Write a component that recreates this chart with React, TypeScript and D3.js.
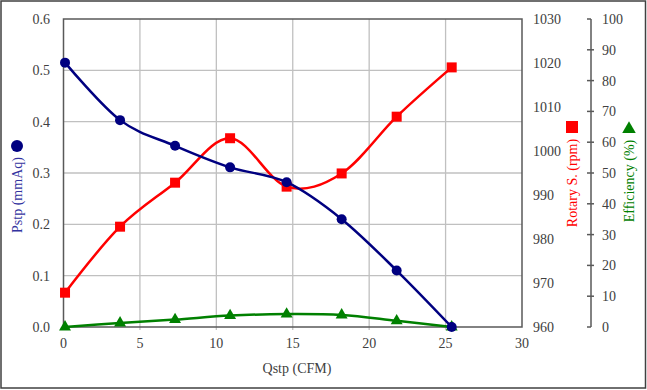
import React from 'react';
import * as d3 from 'd3';

// values
const qstp = [0.1, 3.7, 7.3, 10.9, 14.6, 18.2, 21.8, 25.4];
const pstp = [0.515, 0.403, 0.353, 0.311, 0.282, 0.21, 0.11, 0.0];
const rpm = [967.8, 982.8, 992.8, 1002.9, 991.9, 994.9, 1007.8, 1019.0];
const eff = [0, 1.3, 2.4, 3.7, 4.2, 3.9, 2.0, 0];

const xTicks = [0, 5, 10, 15, 20, 25, 30];
const pTicks = [0, 0.1, 0.2, 0.3, 0.4, 0.5, 0.6];
const rpmTicks = [960, 970, 980, 990, 1000, 1010, 1020, 1030];
const effTicks = [0, 10, 20, 30, 40, 50, 60, 70, 80, 90, 100];

const W = 647;
const H = 390;
const m = { left: 63.5, right: 522, top: 19, bottom: 327 };
const FONT = 'Liberation Serif, DejaVu Serif, serif';

const NAVY = '#000080';
const RED = '#ff0000';
const GREEN = '#008000';
const AXIS = '#595959';
const GRID = '#c0c0c0';
const TXT = '#404040';

const App = () => {
  const x = d3.scaleLinear().domain([0, 30]).range([m.left, m.right]);
  const yP = d3.scaleLinear().domain([0, 0.6]).range([m.bottom, m.top]);
  const yR = d3.scaleLinear().domain([960, 1030]).range([m.bottom, m.top]);
  const yE = d3.scaleLinear().domain([0, 100]).range([m.bottom, m.top]);

  const curve = d3.curveCardinal.tension(0);
  const lineP = d3.line<number>().x((d, i) => x(qstp[i])).y(d => yP(d)).curve(curve);
  const lineR = d3.line<number>().x((d, i) => x(qstp[i])).y(d => yR(d)).curve(curve);
  const lineE = d3.line<number>().x((d, i) => x(qstp[i])).y(d => yE(d)).curve(curve);

  const effAxisX = 591;
  const tri = d3.symbol().type(d3.symbolTriangle).size(62)();

  return (
    <div style={{ position: 'absolute', left: 0, top: 0 }}>
      <svg width={W} height={H} style={{ display: 'block', background: '#fff' }} fontFamily={FONT}>
        <rect x={1} y={1} width={W - 2.5} height={H - 3} fill="#fff" stroke="#404040" strokeWidth={1.5} />

        {/* grid */}
        {pTicks.slice(1, -1).map(t => (
          <line key={'gy' + t} x1={m.left} x2={m.right} y1={yP(t)} y2={yP(t)} stroke={GRID} strokeWidth={1.3} />
        ))}
        {xTicks.slice(1, -1).map(t => (
          <line key={'gx' + t} x1={x(t)} x2={x(t)} y1={m.top} y2={m.bottom + 3} stroke={GRID} strokeWidth={1.3} />
        ))}

        {/* plot frame */}
        <rect x={m.left} y={m.top} width={m.right - m.left} height={m.bottom - m.top}
          fill="none" stroke={AXIS} strokeWidth={1.5} />

        {/* left axis labels */}
        {pTicks.map(t => (
          <text key={'pl' + t} x={50} y={yP(t)} dy="0.35em" textAnchor="end" fontSize={14} fill={TXT} fontFamily={FONT}>
            {t.toFixed(1)}
          </text>
        ))}
        {/* bottom axis labels */}
        {xTicks.map(t => (
          <text key={'xl' + t} x={x(t)} y={348} textAnchor="middle" fontSize={14} fill={TXT} fontFamily={FONT}>{t}</text>
        ))}
        <text x={297} y={373} textAnchor="middle" fontSize={14} fill={TXT} fontFamily={FONT}>Qstp (CFM)</text>

        {/* rpm axis labels */}
        {rpmTicks.map(t => (
          <text key={'rl' + t} x={533} y={yR(t)} dy="0.35em" fontSize={14} fill={TXT} fontFamily={FONT}>{t}</text>
        ))}

        {/* efficiency axis */}
        <line x1={effAxisX} x2={effAxisX} y1={m.top} y2={m.bottom} stroke={AXIS} strokeWidth={1.5} />
        {effTicks.map(t => (
          <g key={'el' + t}>
            <line x1={effAxisX - 4} x2={t === 0 || t === 100 ? effAxisX : effAxisX + 3} y1={yE(t)} y2={yE(t)}
              stroke={AXIS} strokeWidth={1.5} />
            <text x={602} y={yE(t)} dy="0.35em" fontSize={14} fill={TXT} fontFamily={FONT}>{t}</text>
          </g>
        ))}

        {/* axis titles */}
        <g transform="translate(17,183) rotate(-90)">
          <text x={-12} y={0} dy="0.35em" textAnchor="middle" fontSize={14} fill="#3333a0" fontFamily={FONT}>Pstp (mmAq)</text>
          <circle cx={37} cy={0} r={6} fill={NAVY} />
        </g>
        <g transform="translate(572,175) rotate(-90)">
          <text x={-8} y={0} dy="0.35em" textAnchor="middle" fontSize={14} fill={RED} fontFamily={FONT}>Rotary S. (rpm)</text>
          <rect x={42} y={-6} width={12} height={12} fill={RED} />
        </g>
        <g transform="translate(629,172) rotate(-90)">
          <text x={-9} y={0} dy="0.35em" textAnchor="middle" fontSize={14} fill={GREEN} fontFamily={FONT}>Efficiency (%)</text>
          <path d={d3.symbol().type(d3.symbolTriangle).size(80)()} transform="translate(43,0) rotate(90)" fill={GREEN} />
        </g>

        {/* series */}
        <path d={lineE(eff)} fill="none" stroke={GREEN} strokeWidth={2.5} />
        {eff.map((d, i) => (
          <path key={'e' + i} d={tri} transform={`translate(${x(qstp[i])},${yE(d)})`} fill={GREEN} />
        ))}

        <path d={lineR(rpm)} fill="none" stroke={RED} strokeWidth={2.5} />
        {rpm.map((d, i) => (
          <rect key={'r' + i} x={x(qstp[i]) - 5} y={yR(d) - 5} width={10} height={10} fill={RED} />
        ))}

        <path d={lineP(pstp)} fill="none" stroke={NAVY} strokeWidth={2.5} />
        {pstp.map((d, i) => (
          <circle key={'p' + i} cx={x(qstp[i])} cy={yP(d)} r={5} fill={NAVY} />
        ))}
      </svg>
    </div>
  );
};

export default App;
